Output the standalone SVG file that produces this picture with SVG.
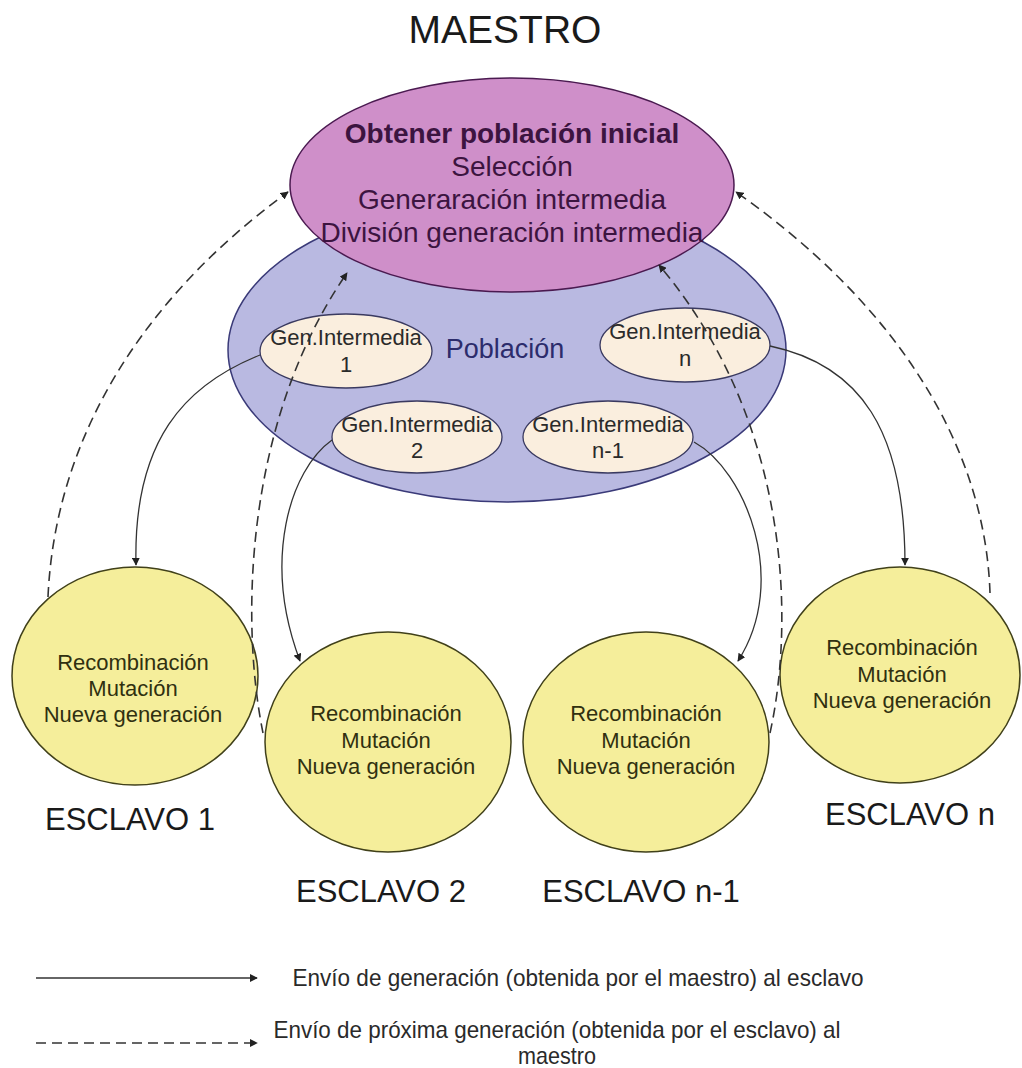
<svg xmlns="http://www.w3.org/2000/svg" width="1022" height="1068" viewBox="0 0 1022 1068">
  <defs>
    <marker id="arrow" viewBox="0 0 10 10" refX="9" refY="5" markerWidth="8" markerHeight="8" markerUnits="userSpaceOnUse" orient="auto">
      <path d="M0,0 L10,5 L0,10 z" fill="#222"/>
    </marker>
    <style>
      text { font-family: "Liberation Sans", Arial, sans-serif; text-anchor: middle; }
      .title { font-size: 39px; fill: #1a1a1a; }
      .master { fill: #cf8fc9; stroke: #4a1a50; stroke-width: 1.5; }
      .master-text { font-size: 28px; fill: #3c1440; }
      .pop { fill: #b9b9e1; stroke: #3a3a78; stroke-width: 1.5; }
      .pop-text { font-size: 27px; fill: #2c2c6c; }
      .gen { fill: #faeede; stroke: #3a3a60; stroke-width: 1.3; }
      .gen-text { font-size: 22px; fill: #2a2a2a; }
      .slave { fill: #f5ee9b; stroke: #40401a; stroke-width: 1.5; }
      .slave-text { font-size: 22px; fill: #303010; }
      .label { font-size: 31px; fill: #1a1a1a; }
      .send { fill: none; stroke: #333; stroke-width: 1.3; marker-end: url(#arrow); }
      .back { fill: none; stroke: #333; stroke-width: 1.6; stroke-dasharray: 10 6; marker-end: url(#arrow); }
      .legend-text { font-family: "Liberation Sans Narrow", "Liberation Sans", Arial, sans-serif; font-size: 24px; fill: #2a2a2a; }
    </style>
  </defs>

  <rect width="1022" height="1068" fill="#ffffff"/>

  <text class="title" x="505" y="43">MAESTRO</text>

  <!-- population with its intermediate generations -->
  <g id="poblacion">
    <ellipse class="pop" cx="507" cy="350" rx="279" ry="152"/>
    <text class="pop-text" x="505" y="358">Población</text>
  </g>

  <!-- master operations -->
  <g id="maestro">
    <ellipse class="master" cx="512" cy="185" rx="222" ry="107"/>
    <text class="master-text" x="512" y="143" font-weight="bold">Obtener población inicial</text>
    <text class="master-text" x="512" y="176">Selección</text>
    <text class="master-text" x="512" y="209">Generaración intermedia</text>
    <text class="master-text" x="512" y="242">División generación intermedia</text>
  </g>

  <g id="gen1">
    <ellipse class="gen" cx="346" cy="351" rx="86" ry="37"/>
    <text class="gen-text" x="346" y="345">Gen.Intermedia</text>
    <text class="gen-text" x="346" y="372">1</text>
  </g>
  <g id="genN">
    <ellipse class="gen" cx="685" cy="345" rx="85" ry="37"/>
    <text class="gen-text" x="685" y="339">Gen.Intermedia</text>
    <text class="gen-text" x="685" y="366">n</text>
  </g>
  <g id="gen2">
    <ellipse class="gen" cx="417" cy="437" rx="85" ry="36"/>
    <text class="gen-text" x="417" y="432">Gen.Intermedia</text>
    <text class="gen-text" x="417" y="458">2</text>
  </g>
  <g id="genN1">
    <ellipse class="gen" cx="608" cy="437" rx="85" ry="36"/>
    <text class="gen-text" x="608" y="432">Gen.Intermedia</text>
    <text class="gen-text" x="608" y="458">n-1</text>
  </g>

  <!-- slaves -->
  <g id="esclavo1">
    <ellipse class="slave" cx="135" cy="676" rx="123" ry="109"/>
    <text class="slave-text" x="133" y="670">Recombinación</text>
    <text class="slave-text" x="133" y="696">Mutación</text>
    <text class="slave-text" x="133" y="722">Nueva generación</text>
    <text class="label" x="130" y="830">ESCLAVO 1</text>
  </g>
  <g id="esclavo2">
    <ellipse class="slave" cx="388" cy="742" rx="123" ry="110"/>
    <text class="slave-text" x="386" y="721">Recombinación</text>
    <text class="slave-text" x="386" y="748">Mutación</text>
    <text class="slave-text" x="386" y="774">Nueva generación</text>
    <text class="label" x="381" y="902">ESCLAVO 2</text>
  </g>
  <g id="esclavoN1">
    <ellipse class="slave" cx="646" cy="742" rx="123" ry="110"/>
    <text class="slave-text" x="646" y="721">Recombinación</text>
    <text class="slave-text" x="646" y="748">Mutación</text>
    <text class="slave-text" x="646" y="774">Nueva generación</text>
    <text class="label" x="641" y="902">ESCLAVO n-1</text>
  </g>
  <g id="esclavoN">
    <ellipse class="slave" cx="900" cy="675" rx="120" ry="108"/>
    <text class="slave-text" x="902" y="655">Recombinación</text>
    <text class="slave-text" x="902" y="682">Mutación</text>
    <text class="slave-text" x="902" y="708">Nueva generación</text>
    <text class="label" x="910" y="825">ESCLAVO n</text>
  </g>

  <!-- connectors -->
  <g id="connectors">
    <path class="send" d="M260,355 C185,385 133,440 136,565"/>
    <path class="send" d="M332,440 C290,470 262,560 300,661"/>
    <path class="send" d="M694,442 C745,470 790,580 738,661"/>
    <path class="send" d="M770,346 C860,365 905,430 905,565"/>
    <path class="back" d="M48,597 C55,440 140,300 288,192"/>
    <path class="back" d="M263,733 C240,620 245,420 347,273"/>
    <path class="back" d="M770,733 C795,620 790,420 659,265"/>
    <path class="back" d="M990,593 C985,440 890,300 736,192"/>
  </g>

  <!-- legend -->
  <g id="legend">
    <path class="send" d="M36,978 L257,978"/>
    <text class="legend-text" x="578" y="986" textLength="571" lengthAdjust="spacingAndGlyphs">Envío de generación (obtenida por el maestro) al esclavo</text>
    <path class="back" d="M36,1043 L257,1043"/>
    <text class="legend-text" x="557" y="1038" textLength="567" lengthAdjust="spacingAndGlyphs">Envío de próxima generación (obtenida por el esclavo) al</text>
    <text class="legend-text" x="557" y="1064" textLength="78" lengthAdjust="spacingAndGlyphs">maestro</text>
  </g>
</svg>
